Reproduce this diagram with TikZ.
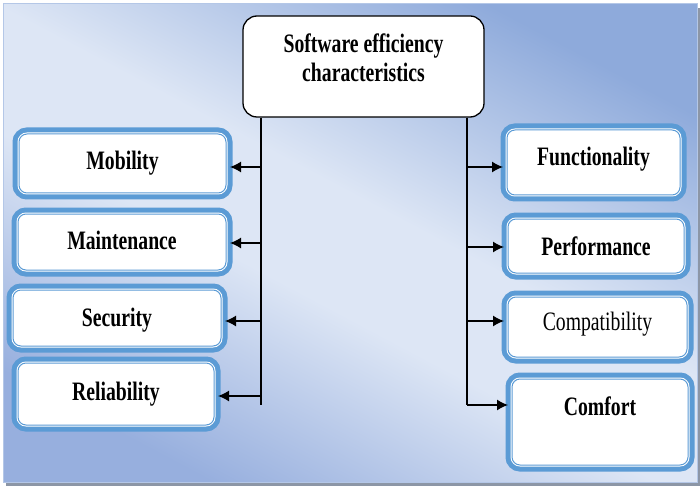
\documentclass[tikz,border=0pt]{standalone}
\usepackage{fontspec}
\setmainfont{Liberation Serif}
\usepackage{graphicx}
\usetikzlibrary{arrows.meta,positioning}
\definecolor{boxblue}{HTML}{5B9BD5}
\definecolor{bgdarkA}{HTML}{8EAADB}
\definecolor{bgdarkB}{HTML}{97AFDE}
\definecolor{bglight}{HTML}{DDE6F5}
\definecolor{bgedge}{HTML}{B4C7E7}
\definecolor{shadowgray}{HTML}{8C96A6}
\newcommand{\tall}[1]{\scalebox{1}[1.35]{#1}}
\pgfdeclarehorizontalshading{bgshade}{100bp}{color(0bp)=(bgdarkB); color(25bp)=(bgdarkB); color(44bp)=(bglight); color(54bp)=(bglight); color(75bp)=(bgdarkA); color(100bp)=(bgdarkA)}

\begin{document}
\begin{tikzpicture}[x=1pt,y=-1pt,
    cbox/.style={rectangle, rounded corners=8pt, fill=white, draw=boxblue, line width=1pt,
        preaction={draw=boxblue, line width=13pt}, preaction={draw=white, line width=3pt},
        inner sep=0pt, outer sep=4pt, text height=18pt, font=\fontsize{19.7}{24}\selectfont\bfseries},
    topbox/.style={rectangle, rounded corners=14pt, fill=white, draw=black, line width=1.3pt,
        inner sep=0pt, text height=18pt, font=\fontsize{19.7}{29}\selectfont\bfseries},
    arr/.style={-{Latex[length=11pt,width=11pt]}, line width=1.3pt}]
    \useasboundingbox (0,0) rectangle (700,486);
    \fill[shadowgray] (6,8) rectangle (700,486);
    \shadedraw[shading=bgshade, shading angle=62, draw=bgedge, line width=1pt] (3,4) rectangle (697,482);

    \node[topbox, minimum width=241pt, minimum height=101pt, text depth=45pt] (top) at (363.5,66.5)
        {\begin{tabular}[t]{@{}c@{}}\tall{Software efficiency}\\\tall{characteristics}\end{tabular}};

    \foreach \n/\x/\y/\w/\h/\dd/\txt in {mob/122.5/163.5/207/59/5/Mobility,
        mnt/122/242/208/56/4/Maintenance, sec/117/318/208/56/2/Security,
        rel/116/394/196/62/6/Reliability, fun/593.5/162.5/173/65/11/Functionality,
        perf/596/246/176/54/0/Performance, comp/597.5/327/179/60/12/{\mdseries Compatibility},
        comf/600/422/176/86/32/Comfort}{
        \node[cbox, minimum width=\w pt, minimum height=\h pt, text depth=\dd pt] (\n) at (\x,\y) {\tall{\txt}};
    }

    \coordinate (lb) at (261,405);
    \coordinate (rb) at (467,405);
    \draw[line width=1.3pt] (top.south -| lb) -- (lb);
    \draw[line width=1.3pt] (top.south -| rb) -- (rb);

    \foreach \n/\s in {mob/3.5,mnt/1,sec/3,rel/2}{
        \path (\n.east) ++(0,\s) coordinate (e\n);
        \draw[arr] (e\n -| lb) -- (e\n);
    }
    \foreach \n/\s in {fun/4.5,perf/1,comp/-6,comf/-17}{
        \path (\n.west) ++(0,\s) coordinate (w\n);
        \draw[arr] (w\n -| rb) -- (w\n);
    }
\end{tikzpicture}
\end{document}
